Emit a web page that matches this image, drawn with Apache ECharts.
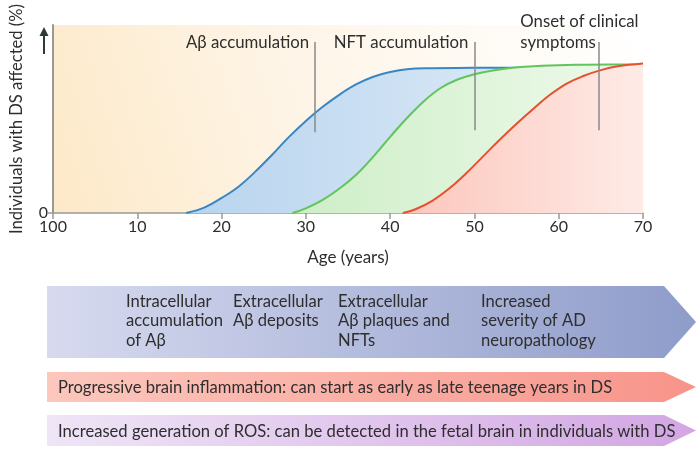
<!DOCTYPE html>
<html><head><meta charset="utf-8">
<script src="https://cdn.jsdelivr.net/npm/echarts@6/dist/echarts.min.js"></script>
<style>html,body{margin:0;padding:0;background:#fff}#c{width:699px;height:449px}</style>
</head><body><div id="c"></div>
<script>
// ---- data ----
const xTickLabels = ['100', '10', '20', '30', '40', '50', '60', '70'];
const yTickLabels = ['0'];
const agesBlue   = [15.8, 18, 20, 22, 24, 26, 28, 30, 32, 34, 36, 38, 40, 42, 45, 50, 55, 60, 70];
const valuesBlue = [0, 3, 8, 14, 22, 31, 40.5, 49, 56.5, 63, 68.5, 72.5, 75, 76.5, 77, 77.3, 77.3, 77.3, 77.3];
const agesGreen   = [28.4, 30, 32, 34, 36, 38, 40, 42, 44, 46, 48, 50, 52, 54, 56, 58, 62, 66, 70];
const valuesGreen = [0, 2.5, 7, 13, 20.5, 30, 40.5, 50.5, 59.5, 66.5, 71, 73.8, 75.7, 77, 77.8, 78.3, 78.8, 79, 79];
const agesRed   = [41.5, 43, 45, 47, 49, 51, 53, 55, 57, 59, 61, 63, 65, 67, 70];
const valuesRed = [0, 2, 6.5, 13, 21, 30, 39, 47.5, 55.5, 63, 69, 73, 76, 78, 79.5];
const annotationNames = ['Aβ accumulation', 'NFT accumulation', 'Onset of clinical\nsymptoms'];
const annotationAges = [31.1, 50, 64.7];
const annotationLow  = [43, 44, 44];
const annotationHigh = [91, 91, 91];
const bannerColumns = ['Intracellular\naccumulation\nof Aβ', 'Extracellular\nAβ deposits', 'Extracellular\nAβ plaques and\nNFTs', 'Increased\nseverity of AD\nneuropathology'];
const bannerLines = ['Progressive brain inflammation: can start as early as late teenage years in DS',
                     'Increased generation of ROS: can be detected in the fetal brain in individuals with DS'];
const xName = 'Age (years)';
const yName = 'Individuals with DS affected (%)';

// ---- chart ----
const FONT = 'Lato';
const TXT = '#2e2e2e';
const chart = echarts.init(document.getElementById('c'), null, {renderer: 'canvas'});
const G = (c0, c1) => new echarts.graphic.LinearGradient(0, 0, 1, 0, [{offset: 0, color: c0}, {offset: 1, color: c1}]);
const pairs = (a, b) => a.map((x, i) => [x, b[i]]);

function mkSeries(name, ages, vals, line, a0, a1, z, extra) {
  return Object.assign({
    name, type: 'line', data: pairs(ages, vals), smooth: 0.4, z: z,
    symbol: 'none', lineStyle: {color: line, width: 2}, areaStyle: {color: G(a0, a1), opacity: 1},
    silent: true, animation: false
  }, extra || {});
}

chart.setOption({
  animation: false,
  textStyle: {fontFamily: FONT},
  grid: {left: 49, top: 25, width: 594, height: 188, show: true, borderWidth: 0,
    backgroundColor: new echarts.graphic.LinearGradient(0, 1, 1, 0, [
      {offset: 0, color: '#fde9c8'}, {offset: 0.45, color: '#fef5e8'}, {offset: 1, color: '#ffffff'}])},
  xAxis: {
    type: 'value', min: 0, max: 70, interval: 10,
    name: xName, nameLocation: 'middle', nameGap: 36,
    nameTextStyle: {fontSize: 17, color: TXT, fontFamily: FONT},
    axisLine: {lineStyle: {color: '#999', width: 1.5}},
    axisTick: {length: 6, lineStyle: {color: '#999', width: 1.5}},
    axisLabel: {fontSize: 16, color: TXT, margin: 6, fontFamily: FONT,
      formatter: v => xTickLabels[Math.round(v / 10)]},
    splitLine: {show: false}
  },
  yAxis: {
    type: 'value', min: 0, max: 100,
    name: yName, nameLocation: 'middle', nameGap: 28, nameRotate: 90,
    nameTextStyle: {fontSize: 16.6, color: TXT, fontFamily: FONT},
    axisLine: {show: true, lineStyle: {color: '#999', width: 2}},
    axisTick: {show: true, customValues: [0], length: 5, lineStyle: {color: '#999', width: 1.5}},
    axisLabel: {customValues: [0], fontSize: 16, color: TXT, margin: 5, fontFamily: FONT,
      formatter: v => (v === 0 ? yTickLabels[0] : '')},
    splitLine: {show: false}
  },
  series: [
    mkSeries('Aβ', agesBlue, valuesBlue, '#3a86c2', '#b8d4ee', '#e6f0f9', 2),
    mkSeries('NFT', agesGreen, valuesGreen, '#62c45c', '#cdeec6', '#f0faed', 3),
    mkSeries('Onset', agesRed, valuesRed, '#e5502f', '#fcc6bc', '#feebe6', 4, {
      markLine: {
        silent: true, symbol: ['none', 'none'], animation: false, z: 10,
        lineStyle: {color: '#8a8a8a', width: 1.5, type: 'solid'}, label: {show: false},
        data: annotationAges.map((a, i) => [{coord: [a, annotationLow[i]]}, {coord: [a, annotationHigh[i]]}])
      }
    })
  ]
});

// ---- annotations & banners ----
const gfx = [];
annotationAges.forEach((a, i) => {
  const p = chart.convertToPixel({gridIndex: 0}, [a, annotationHigh[i]]);
  const multi = annotationNames[i].indexOf('\n') >= 0;
  gfx.push({type: 'text', silent: true, z: 50,
    x: multi ? p[0] - 78 : p[0] - 6, y: p[1] + 11,
    style: {text: annotationNames[i], font: '16.8px ' + FONT, fill: TXT,
      align: multi ? 'left' : 'right', verticalAlign: 'bottom', lineHeight: 21}});
});
// arrow on y axis
const arrowTop = chart.convertToPixel({gridIndex: 0}, [0, 100]);
gfx.push({type: 'line', silent: true, shape: {x1: arrowTop[0] - 9, y1: arrowTop[1] + 4, x2: arrowTop[0] - 9, y2: arrowTop[1] + 29},
  style: {stroke: '#2d3a3a', lineWidth: 2}});
gfx.push({type: 'polygon', silent: true, shape: {points: [[arrowTop[0] - 9, arrowTop[1] + 2], [arrowTop[0] - 13.5, arrowTop[1] + 11], [arrowTop[0] - 4.5, arrowTop[1] + 11]]},
  style: {fill: '#2d3a3a'}});

// banners
const banners = [
  {top: 286, bottom: 358, c0: '#d7daef', c1: '#8e9cca'},
  {top: 372, bottom: 402, c0: '#fcc7bd', c1: '#f8948a'},
  {top: 415, bottom: 446, c0: '#efe5f6', c1: '#d2a6e3'}
];
banners.forEach(b => {
  const mid = (b.top + b.bottom) / 2;
  gfx.push({type: 'polygon', silent: true, z: 1,
    shape: {points: [[47, b.top], [664, b.top], [696, mid], [664, b.bottom], [47, b.bottom]]},
    style: {fill: G(b.c0, b.c1)}});
});
const colX = [126, 233, 338, 481];
bannerColumns.forEach((t, i) => {
  gfx.push({type: 'text', silent: true, z: 5, x: colX[i], y: 291.5,
    style: {text: t, font: '16.6px ' + FONT, fill: TXT, verticalAlign: 'top', lineHeight: 19.5}});
});
bannerLines.forEach((t, i) => {
  const b = banners[i + 1];
  gfx.push({type: 'text', silent: true, z: 5, x: 58, y: (b.top + b.bottom) / 2 + 1,
    style: {text: t, font: '16.6px ' + FONT, fill: TXT, verticalAlign: 'middle'}});
});
chart.setOption({graphic: gfx});
</script></body></html>
